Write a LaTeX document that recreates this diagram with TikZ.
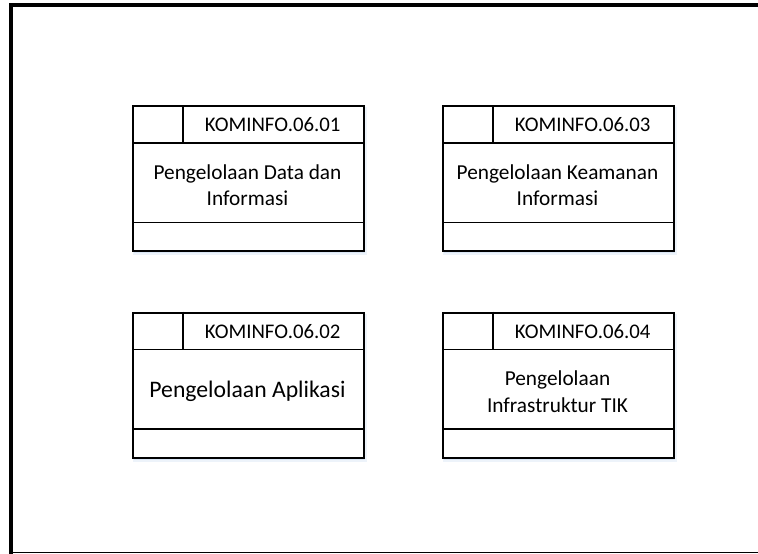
\documentclass[tikz,border=0pt]{standalone}
\usepackage{fontspec}
\setmainfont{Carlito}
\usetikzlibrary{calc}
\definecolor{shadowblue}{RGB}{206,222,242}
\tikzset{
  heavyframe/.style={line width=4pt, black},
  thinframe/.style={line width=1.2pt, black},
  kbox/.style={draw, line width=1.8pt, fill=white, minimum width=230.4pt, minimum height=145pt, inner sep=0pt, anchor=north west},
  kshadow/.style={fill=shadowblue, draw=none},
  divider/.style={line width=1.8pt, black},
  codetext/.style={font=\fontsize{20.8}{24}\selectfont},
  bodytext/.style={align=center},
}
\newcommand\kominfobox[6]{%
  \fill[kshadow, opacity=0.35] ({#2+1},{#3+2}) rectangle ({#2+234.5},{#3+150});
  \fill[kshadow, opacity=0.6] ({#2+1.5},{#3+2}) rectangle ({#2+233},{#3+148});
  \node[kbox] (#1) at (#2,#3) {};
  \coordinate (#1-hl) at ($(#1.north west)+(0,37.7)$);
  \coordinate (#1-hr) at ($(#1.north east)+(0,37.7)$);
  \coordinate (#1-vt) at ($(#1.north west)+(50.4,0)$);
  \coordinate (#1-vb) at ($(#1.north west)+(50.4,37.7)$);
  \coordinate (#1-fl) at ($(#1.south west)+(0,-29.3)$);
  \coordinate (#1-fr) at ($(#1.south east)+(0,-29.3)$);
  \draw[divider] (#1-hl) -- (#1-hr);
  \draw[divider] (#1-vt) -- (#1-vb);
  \draw[divider] (#1-fl) -- (#1-fr);
  \node[codetext] (#1-code) at ($(#1.north west)+(140.4,20)$) {#4};
  \node[bodytext, font=\fontsize{#6}{26.5}\selectfont] (#1-body) at ($(#1.north west)+(115.2,80)$) {#5};
}
\begin{document}
\begin{tikzpicture}[x=1pt, y=-1pt]
\useasboundingbox (0,0) rectangle (758,554);
\fill[white] (0,0) rectangle (758,554);
\coordinate (ftl) at (10.5,4.5);
\coordinate (ftr) at (758,4.5);
\coordinate (fbl) at (10.5,554);
\coordinate (bl) at (9,552.5);
\coordinate (br) at (758,552.5);
\draw[thinframe] (bl) -- (br);
\draw[heavyframe] (fbl) -- (ftl) -- (ftr);
\kominfobox{b1}{132.3}{105}{KOMINFO.06.01}{Pengelolaan Data dan\\Informasi}{21.3}
\kominfobox{b3}{442.3}{105}{KOMINFO.06.03}{Pengelolaan Keamanan\\Informasi}{21.3}
\kominfobox{b2}{132.3}{311.7}{KOMINFO.06.02}{Pengelolaan Aplikasi}{23.7}
\kominfobox{b4}{442.3}{311.7}{KOMINFO.06.04}{Pengelolaan\\Infrastruktur TIK}{21.3}
\end{tikzpicture}
\end{document}
